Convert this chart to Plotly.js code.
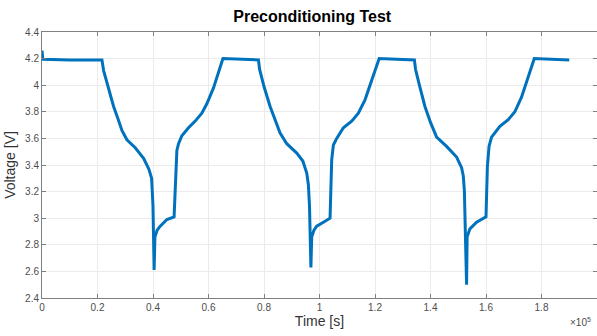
<!DOCTYPE html>
<html>
<head>
<meta charset="utf-8">
<script src="https://cdn.plot.ly/plotly-3.0.1.min.js"></script>
<style>
  html, body { margin: 0; padding: 0; background: #fff; }
  #chart { width: 597px; height: 336px; }
</style>
</head>
<body>
<div id="chart"></div>
<script>
// Cell voltage over three discharge/charge cycles (time in seconds)
const timeSec = [
  0, 300, 10000, 21600, 22200, 24000, 25800, 27500, 28800, 30600, 33600, 36600,
  38500, 39500, 40000, 40400, 40700, 41500, 42600, 45000, 47600, 48600, 49200,
  50400, 52800, 55200, 57600, 59400, 61800, 65200, 78000,
  78400, 80000, 82200, 84000, 85800, 88200, 91800, 94000, 95400, 96000, 96400,
  96900, 97200, 98000, 99000, 101400, 103800, 104400, 105000, 106200, 108600,
  111600, 114000, 116400, 118800, 121500, 134200,
  134600, 136000, 138000, 140000, 142200, 145800, 149400, 151200, 151800,
  152200, 152700, 153000, 153200, 154200, 156600, 160000, 160500, 161100,
  162000, 165000, 168000, 170400, 172800, 175200, 177400, 190000
];
const voltage = [
  4.26, 4.195, 4.19, 4.19, 4.11, 3.97, 3.84, 3.74, 3.66, 3.59, 3.53, 3.45,
  3.37, 3.30, 3.09, 2.61, 2.86, 2.91, 2.94, 2.99, 3.01, 3.51, 3.56,
  3.62, 3.68, 3.73, 3.79, 3.86, 3.98, 4.20, 4.19,
  4.12, 3.99, 3.84, 3.74, 3.64, 3.56, 3.49, 3.43, 3.34, 3.25, 3.09,
  2.63, 2.86, 2.91, 2.94, 2.97, 3.00, 3.44, 3.55, 3.60, 3.68,
  3.73, 3.79, 3.89, 4.04, 4.20, 4.19,
  4.12, 4.00, 3.84, 3.72, 3.61, 3.54, 3.46, 3.38, 3.32,
  3.21, 2.84, 2.50, 2.86, 2.92, 2.97, 3.01, 3.39, 3.54,
  3.61, 3.69, 3.74, 3.80, 3.91, 4.06, 4.20, 4.19
];

// Axis ticks: x labels are shown in units of 1e5 s
const xTickVals = [0, 20000, 40000, 60000, 80000, 100000, 120000, 140000, 160000, 180000, 200000];
const xTickText = ['0', '0.2', '0.4', '0.6', '0.8', '1', '1.2', '1.4', '1.6', '1.8', '2'];
const yTickVals = [2.4, 2.6, 2.8, 3, 3.2, 3.4, 3.6, 3.8, 4, 4.2, 4.4];
const yTickText = ['2.4', '2.6', '2.8', '3', '3.2', '3.4', '3.6', '3.8', '4', '4.2', '4.4'];

const FONT = 'Liberation Sans, Arial, Helvetica, sans-serif';
const AXIS_COLOR = '#808080';
const GRID_COLOR = '#ebebeb';

const trace = {
  x: timeSec,
  y: voltage,
  type: 'scatter',
  mode: 'lines',
  line: { color: '#0072BD', width: 3 },
  hoverinfo: 'skip'
};

const axisCommon = {
  showline: true,
  linecolor: AXIS_COLOR,
  linewidth: 1,
  mirror: 'ticks',
  ticks: 'inside',
  ticklen: 4,
  tickcolor: AXIS_COLOR,
  showgrid: true,
  gridcolor: GRID_COLOR,
  gridwidth: 1,
  zeroline: false,
  tickfont: { family: FONT, size: 10, color: '#4d4d4d' }
};

const layout = {
  width: 597,
  height: 336,
  margin: { l: 42, r: 0, t: 32, b: 38 },
  paper_bgcolor: '#ffffff',
  plot_bgcolor: '#ffffff',
  showlegend: false,
  title: {
    text: '<b>Preconditioning Test</b>',
    font: { family: FONT, size: 16, color: '#000000' },
    x: 0.523, xanchor: 'center',
    y: 0.952, yanchor: 'middle'
  },
  xaxis: Object.assign({}, axisCommon, {
    range: [0, 200000],
    tickmode: 'array',
    tickvals: xTickVals,
    ticktext: xTickText,
    title: { text: 'Time [s]', font: { family: FONT, size: 14, color: '#333333' }, standoff: 4 }
  }),
  yaxis: Object.assign({}, axisCommon, {
    range: [2.4, 4.4],
    tickmode: 'array',
    tickvals: yTickVals,
    ticktext: yTickText,
    title: { text: 'Voltage [V]', font: { family: FONT, size: 14, color: '#333333' }, standoff: 6 }
  }),
  annotations: [{
    text: '×10<sup>5</sup>',
    xref: 'paper', yref: 'paper',
    x: 1, y: 0, xanchor: 'right', yanchor: 'top',
    yshift: -16, xshift: -4,
    showarrow: false,
    font: { family: FONT, size: 10, color: '#4d4d4d' }
  }]
};

Plotly.newPlot('chart', [trace], layout, { displayModeBar: false, staticPlot: true });
</script>
</body>
</html>
